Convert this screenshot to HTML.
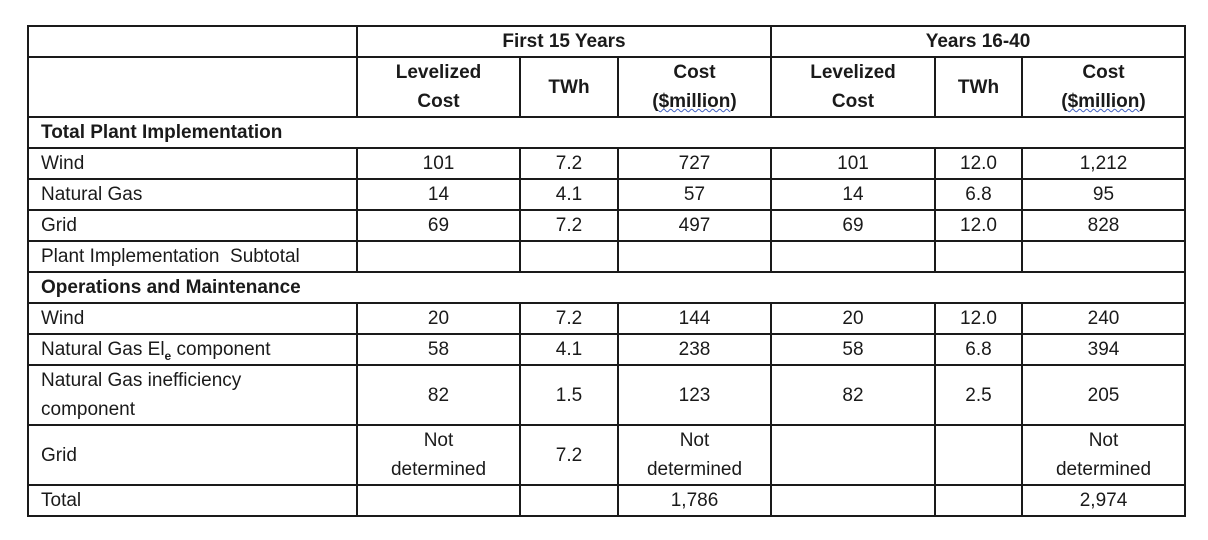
<!DOCTYPE html>
<html><head><meta charset="utf-8"><style>
body{margin:0;background:#fff;width:1208px;height:540px;overflow:hidden;font-family:"Liberation Sans",sans-serif;color:#1a1a1a}
table{position:absolute;left:27px;top:25px;border-collapse:collapse;table-layout:fixed;width:1158px}
td{border:2px solid #1a1a1a;font-size:19px;text-align:center;padding:0;line-height:29px;vertical-align:middle;overflow:hidden}
td.l{text-align:left;padding-left:12px}
.b{font-weight:bold}
tr{height:29px}
tr.t2{height:58px}
u{text-decoration:underline wavy #4060c0;text-decoration-thickness:1px}
</style></head><body>
<table>
<colgroup><col style="width:329px"><col style="width:163px"><col style="width:98px"><col style="width:153px"><col style="width:164px"><col style="width:87px"><col style="width:163px"></colgroup>
<tr><td></td><td colspan="3" class="b">First 15 Years</td><td colspan="3" class="b">Years 16-40</td></tr>
<tr class="t2"><td></td><td class="b">Levelized<br>Cost</td><td class="b">TWh</td><td class="b">Cost<br>(<u>$million</u>)</td><td class="b">Levelized<br>Cost</td><td class="b">TWh</td><td class="b">Cost<br>(<u>$million</u>)</td></tr>
<tr><td colspan="7" class="l b">Total Plant Implementation</td></tr>
<tr><td class="l">Wind</td><td>101</td><td>7.2</td><td>727</td><td>101</td><td>12.0</td><td>1,212</td></tr>
<tr><td class="l">Natural Gas</td><td>14</td><td>4.1</td><td>57</td><td>14</td><td>6.8</td><td>95</td></tr>
<tr><td class="l">Grid</td><td>69</td><td>7.2</td><td>497</td><td>69</td><td>12.0</td><td>828</td></tr>
<tr><td class="l">Plant Implementation&nbsp; Subtotal</td><td></td><td></td><td></td><td></td><td></td><td></td></tr>
<tr><td colspan="7" class="l b">Operations and Maintenance</td></tr>
<tr><td class="l">Wind</td><td>20</td><td>7.2</td><td>144</td><td>20</td><td>12.0</td><td>240</td></tr>
<tr><td class="l">Natural Gas El<sub style="font-size:12px;font-weight:bold;line-height:0">e</sub> component</td><td>58</td><td>4.1</td><td>238</td><td>58</td><td>6.8</td><td>394</td></tr>
<tr class="t2"><td class="l">Natural Gas inefficiency<br>component</td><td>82</td><td>1.5</td><td>123</td><td>82</td><td>2.5</td><td>205</td></tr>
<tr class="t2"><td class="l">Grid</td><td>Not<br>determined</td><td>7.2</td><td>Not<br>determined</td><td></td><td></td><td>Not<br>determined</td></tr>
<tr><td class="l">Total</td><td></td><td></td><td>1,786</td><td></td><td></td><td>2,974</td></tr>
</table>
</body></html>
